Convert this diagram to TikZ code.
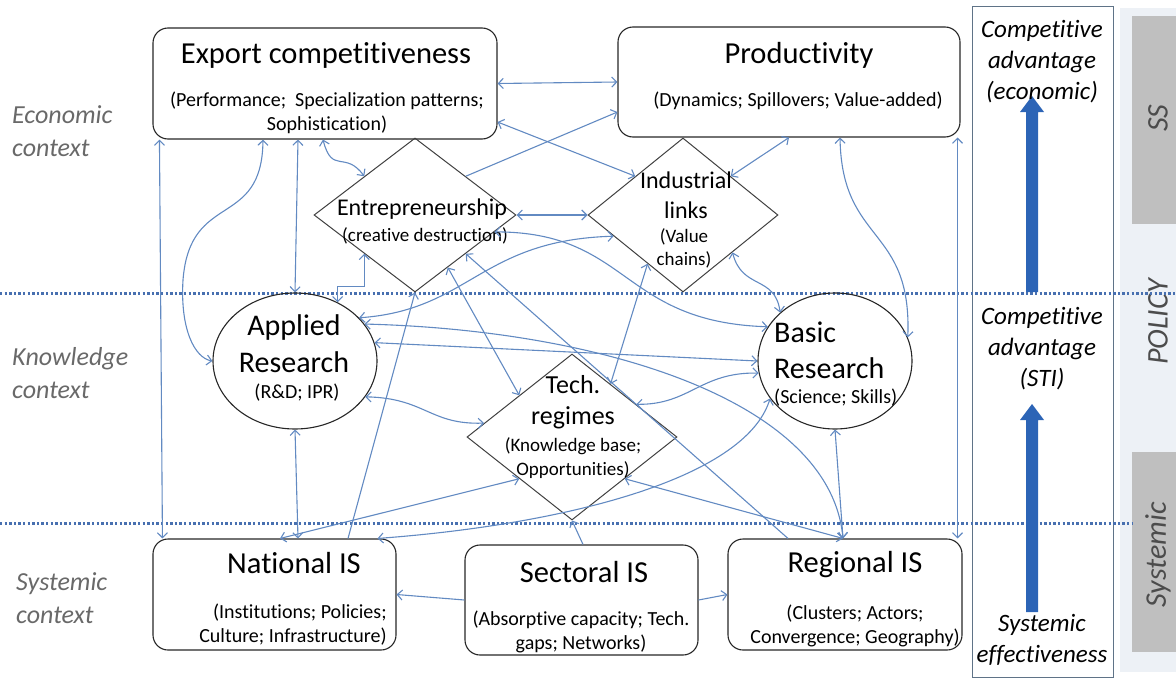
\documentclass[tikz,border=0pt]{standalone}
\usepackage{fontspec}
\setmainfont{Carlito}[Ligatures=NoCommon]
\usetikzlibrary{shapes.geometric,arrows.meta}
\definecolor{linkblue}{RGB}{98,138,194}
\definecolor{sepblue}{RGB}{72,112,176}
\definecolor{arrowblue}{RGB}{44,100,182}
\definecolor{ctxgray}{RGB}{105,105,105}
\definecolor{bargray}{RGB}{191,191,191}
\definecolor{stripgray}{RGB}{237,241,246}
\definecolor{panelline}{RGB}{95,115,135}

\begin{document}
\begin{tikzpicture}[x=1pt,y=-1pt,
  box/.style={draw=black!85,line width=1.1pt,rounded corners=15pt,inner sep=0pt},
  oval/.style={ellipse,draw=black!85,line width=1.1pt,inner sep=0pt},
  rhomb/.style={diamond,draw=black!75,line width=1pt,inner sep=0pt},
  ttl/.style={font=\fontsize{30.5}{35}\selectfont,inner sep=0pt,align=center},
  mid/.style={font=\fontsize{24}{30}\selectfont,inner sep=0pt,align=center},
  sub/.style={font=\fontsize{20}{24}\selectfont,inner sep=0pt,align=center},
  small/.style={font=\fontsize{19}{23.5}\selectfont,inner sep=0pt,align=center},
  ctx/.style={font=\fontsize{26}{33}\itshape\selectfont,text=ctxgray,align=left,anchor=west,inner sep=0pt},
  adv/.style={font=\fontsize{25}{31}\itshape\selectfont,align=center,inner sep=0pt},
  side/.style={font=\fontsize{30}{34}\itshape\selectfont,rotate=90,text=black!70,inner sep=0pt},
  link/.style={draw=linkblue,line width=1.1pt},
  sep/.style={draw=sepblue,line width=3pt,dash pattern=on 2.4pt off 2.2pt},
  >={Straight Barb[length=5pt,width=10pt]}]
  \useasboundingbox (0,0) rectangle (1176,680);

  % right hand panel
  \fill[stripgray] (1120,8) rectangle (1176,672);
  \fill[bargray] (1132,16) rectangle (1176,224);
  \fill[bargray] (1132,452) rectangle (1176,652);
  \draw[panelline,line width=1pt] (972,6) rectangle (1113,677);
  \node[side] (ss) at (1158,118) {SS};
  \node[side] (policy) at (1158,322) {POLICY};
  \node[side] (systemic) at (1158,555) {Systemic};

  % context separators
  \draw[sep] (0,293) -- (1176,293);
  \draw[sep] (0,523) -- (1132,523);

  \fill[arrowblue] (1026,292) -- (1026,112) -- (1020,112) -- (1032,96) -- (1044,112) -- (1038,112) -- (1038,292) -- cycle;
  \fill[arrowblue] (1026,612) -- (1026,420) -- (1020,420) -- (1032,404) -- (1044,420) -- (1038,420) -- (1038,612) -- cycle;
  \node[adv] (advecon) at (1042,62) {Competitive\\advantage\\(economic)};
  \node[adv] (advsti) at (1042,349) {Competitive\\advantage\\(STI)};
  \node[adv] (effect) at (1042,640) {Systemic\\effectiveness};

  \node[ctx] (econ) at (12,131) {Economic\\context};
  \node[ctx] (know) at (12,373) {Knowledge\\context};
  \node[ctx] (syst) at (16,598) {Systemic\\context};

  % boxes, diamonds, circles
  \node[box,minimum width=344pt,minimum height=111pt] (exp) at (325,83.5) {};
  \node[box,minimum width=342pt,minimum height=110pt] (prod) at (789,82) {};
  \node[rhomb,minimum width=202pt,minimum height=154pt] (ent) at (415,215) {};
  \node[rhomb,minimum width=190pt,minimum height=154pt] (ind) at (683,215) {};
  \node[oval,minimum width=164pt,minimum height=136pt] (app) at (295,361) {};
  \node[oval,minimum width=154pt,minimum height=136pt] (bas) at (835,361) {};
  \node[rhomb,minimum width=210pt,minimum height=166pt] (tech) at (572,437) {};
  \node[box,minimum width=243pt,minimum height=111pt] (nat) at (274.5,594.5) {};
  \node[box,minimum width=233pt,minimum height=110pt] (sec) at (581.5,600) {};
  \node[box,minimum width=234pt,minimum height=111pt] (reg) at (845,594.5) {};

  \node[ttl] (exptitle) at (326,55) {Export competitiveness};
  \node[sub] (expsub) at (327,113) {(Performance;\ \ Specialization patterns;\\Sophistication)};
  \node[ttl] (prodtitle) at (799,55) {Productivity};
  \node[sub] (prodsub) at (798,101) {(Dynamics; Spillovers; Value-added)};
  \node[mid] (enttitle) at (422,209) {Entrepreneurship};
  \node[small] (entsub) at (425,236) {(creative destruction)};
  \node[mid] (indtitle) at (686,195) {Industrial\\links};
  \node[small] (indsub) at (684,248.5) {(Value\\chains)};
  \node[ttl,font=\fontsize{30}{37}\selectfont] (apptitle) at (294,343.5) {Applied\\Research};
  \node[sub] (appsub) at (297,393) {(R\&D; IPR)};
  \node[ttl,font=\fontsize{30}{36}\selectfont,align=left,anchor=west] (bastitle) at (774,350) {Basic\\Research};
  \node[sub,anchor=west] (bassub) at (774,398) {(Science; Skills)};
  \node[ttl,font=\fontsize{26}{31}\selectfont] (techtitle) at (573,402.5) {Tech.\\regimes};
  \node[small] (techsub) at (573,458) {(Knowledge base;\\Opportunities)};
  \node[ttl] (nattitle) at (294,563) {National IS};
  \node[sub,align=right] (natsub) at (293,625) {(Institutions; Policies;\\Culture; Infrastructure)};
  \node[ttl] (sectitle) at (584,572) {Sectoral IS};
  \node[sub] (secsub) at (581,632) {(Absorptive capacity; Tech.\\gaps; Networks)};
  \node[ttl] (regtitle) at (855,565) {Regional IS};
  \node[sub] (regsub) at (855,625.5) {(Clusters; Actors;\\Convergence; Geography)};

  % links
  \draw[link,<->] (exp.east) -- (prod.west);
  \draw[link,<->] ([yshift=-38.5pt]exp.east) -- (ind.north west);
  \draw[link,->] (ent.north east) -- ([yshift=-30pt]prod.west);
  \draw[link,<->] (prod.south) -- (ind.north east);
  \draw[link,<->] ([xshift=51pt]prod.south) .. controls (842,245) and (912,225) .. (bas.18);
  \draw[link,<->] ([xshift=-3pt]prod.south east) -- ([xshift=-3pt]prod.south east |- reg.north);
  \draw[link,<->] ([xshift=7pt]exp.south west) -- ([xshift=10pt]nat.north west);
  \draw[link,<->] ([xshift=-62pt]exp.south) .. controls (262,230) and (190,190) .. (183,280) .. controls (180,330) and (195,358) .. (app.west);
  \draw[link,<->] ([xshift=-27pt]exp.south) -- (app.north);
  \draw[link,<->] ([xshift=-2pt]exp.south) .. controls (332,175) and (345,150) .. (ent.north west);
  \draw[link,<->] (app.54) -- ++(0,-16) -| (ent.south west);
  \draw[link,<->] (ent.east) -- (ind.west);
  \draw[link,<->] (ent.-12) .. controls (630,232) and (620,322) .. (bas.153);
  \draw[link,<->] (app.34) .. controls (470,310) and (480,240) .. (ind.197);
  \draw[link,<->] (app.28) .. controls (600,330) and (830,400) .. ([xshift=-2pt]reg.north);
  \draw[link,<->] (app.13) -- (bas.west);
  \draw[link,<->] (bas.south) -- ([xshift=-2pt]reg.north);
  \draw[link,<->] (tech.south east) -- ([xshift=-2pt]reg.north);
  \draw[link,->] ([xshift=-57pt]reg.north) -- (ent.south east);
  \draw[link,<->] (ent.-58) -- (tech.north west);
  \draw[link,<->] (ind.-126) -- (tech.54);
  \draw[link,<->] (ind.-37) .. controls (742,290) and (775,275) .. (bas.north west);
  \draw[link,<->] (bas.189) .. controls (700,372) and (690,405) .. (tech.27);
  \draw[link,<->] ([xshift=-19pt]nat.north east) .. controls (560,525) and (745,480) .. (bas.210);
  \draw[link,<->] (app.south) -- ([xshift=23.5pt]nat.north);
  \draw[link,<->] ([xshift=5.5pt]nat.north) -- (tech.south west);
  \draw[link,->] ([xshift=73.5pt]nat.north) -- (ent.south);
  \draw[link,->] (sec.west) -- (nat.east);
  \draw[link,->] (sec.east) -- (reg.west);
  \draw[link,->] ([xshift=1.5pt]sec.north) -- (tech.south);
  \draw[link,<->] (app.-27) .. controls (425,398) and (430,425) .. (tech.171);
\end{tikzpicture}
\end{document}
